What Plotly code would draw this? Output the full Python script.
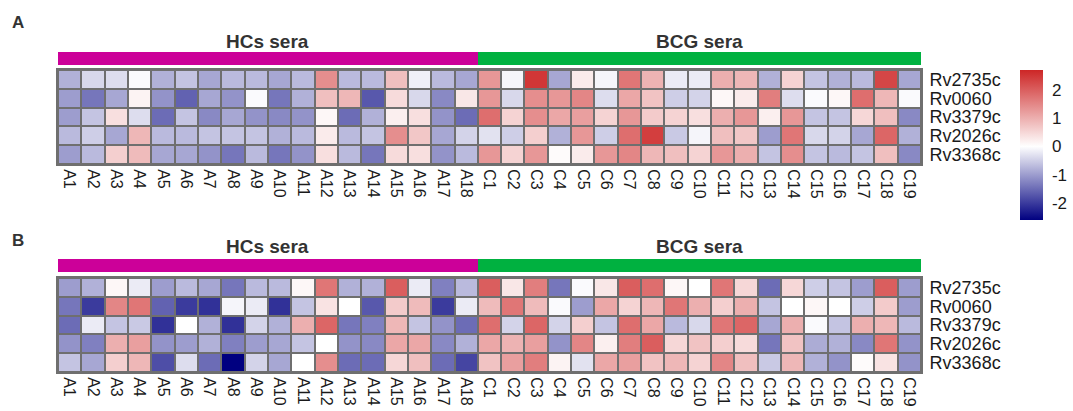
import plotly.graph_objects as go

# Sample labels
hc_samples = [f"A{i}" for i in range(1, 19)]
bcg_samples = [f"C{i}" for i in range(1, 20)]
samples = hc_samples + bcg_samples
genes = ["Rv2735c", "Rv0060", "Rv3379c", "Rv2026c", "Rv3368c"]
group_names = ["HCs sera", "BCG sera"]

# Panel A: scaled values (HCs then BCG)
a_rv2735c = [-0.8, -0.4, -0.35, -0.05, -0.8, -0.6, -0.9, -0.7, -0.7, -0.9, -0.7, 1.4, -0.7, -0.7, 0.8, -0.15, -0.7, -0.9,
             1.3, -0.1, 2.5, -0.9, 0.25, -0.1, 1.7, 0.95, -0.2, -0.2, 1.0, 0.9, -0.8, 0.55, -0.6, -0.8, -0.7, 2.3, -0.9]
a_rv0060 = [-1.0, -1.4, -0.9, 0.15, -1.1, -1.6, -0.9, -1.1, -0.05, -1.4, -0.8, 0.8, 0.9, -1.7, 0.45, -0.4, -1.2, 0.3,
            1.3, -0.4, 1.4, 1.3, 1.5, -0.35, 1.1, 0.75, -0.5, -0.45, 0.1, 0.25, 1.6, -0.35, -0.05, 0.1, 1.8, 0.9, -0.05]
a_rv3379c = [-1.0, -0.6, 0.4, -0.35, -1.5, -0.6, -1.2, -0.9, -1.1, -1.2, -1.1, 0.1, -1.5, -0.8, 0.2, 0.4, -1.1, -1.5,
             1.8, 0.55, 1.4, 1.1, 1.2, 0.55, 1.3, 0.65, 0.55, 0.4, 1.0, 1.3, 0.2, 1.3, -0.6, -0.6, 0.5, 0.8, -1.2]
a_rv2026c = [-0.7, -0.5, -0.9, 0.9, -0.7, -0.7, -0.6, -0.6, -0.6, -0.8, -0.7, 0.25, -0.7, -0.6, 1.4, 0.7, -0.9, -0.45,
             -0.3, -0.5, 0.6, -0.8, 1.3, -0.5, 1.8, 2.4, -0.55, -0.1, 0.8, 0.7, -1.0, 1.7, -0.4, -0.45, -0.9, 1.9, -0.8]
a_rv3368c = [-1.0, -0.7, 0.6, 0.85, -0.9, -0.9, -1.1, -1.4, -0.7, -1.4, -1.1, 0.4, -0.7, -1.4, 0.45, 0.4, -1.1, -0.7,
             1.3, 0.55, 1.3, 0.05, 0.25, 1.3, 1.5, 0.9, 0.8, 0.55, 1.3, 1.0, -0.6, 1.4, -0.6, -0.7, -0.6, 0.8, -1.2]

# Panel B: scaled values (HCs then BCG)
b_rv2735c = [-1.0, -0.8, 0.1, -0.2, -1.0, -0.7, -0.9, -1.4, -0.7, -0.7, 0.1, 1.7, -0.8, -0.8, 2.0, -0.2, -1.3, -0.7,
             2.0, 0.3, 1.6, -1.4, -0.05, 0.3, 2.0, 1.8, 0.1, 0.0, 1.7, 0.5, -1.5, 0.5, -0.5, -0.6, -1.0, 2.0, -1.0]
b_rv0060 = [-1.4, -2.0, 1.5, 1.7, -1.6, -2.0, -2.1, -0.1, -0.2, -2.1, -0.6, 0.35, 0.0, -1.7, 0.65, 0.85, -2.0, -0.2,
            0.85, 1.7, 0.85, -0.05, -1.0, 1.1, 0.55, 0.9, 1.7, 1.0, 0.6, 1.0, -0.6, 0.0, 0.1, 0.0, -0.5, 0.65, -1.0]
b_rv3379c = [-1.5, -0.2, -0.6, -0.55, -2.1, 0.0, -0.8, -2.1, -0.45, -0.8, 1.0, 1.9, -1.4, -1.3, 0.9, -0.6, -1.1, -1.5,
             1.8, -0.45, 1.9, -0.45, 0.6, -0.6, 1.8, 1.1, -0.7, -0.4, 1.7, 1.9, -0.9, 1.0, -0.05, -0.6, 1.0, 0.9, -0.7]
b_rv2026c = [-1.1, -1.3, 1.0, 1.2, -1.1, -1.0, -0.8, -1.3, -1.0, -0.9, -0.6, 0.0, -1.1, -1.2, 1.1, 1.1, -1.2, -0.8,
             1.1, 0.95, 1.2, -1.1, 1.5, 0.2, 1.6, 2.0, 0.5, 0.75, 0.6, 0.45, -1.4, 0.75, -0.85, -0.8, -1.2, 1.7, -1.1]
b_rv3368c = [-0.6, -0.9, 0.6, 0.9, -1.8, -0.35, -1.5, -2.6, -0.45, -0.9, 0.0, 1.4, -1.5, -1.5, 0.5, 0.8, -1.5, -1.9,
             0.75, 1.2, 1.6, 0.15, -0.3, 1.1, 1.2, 0.75, 0.9, 0.55, 1.5, 0.8, -0.55, 0.9, -0.8, -1.1, 0.05, 0.35, -1.1]

colorbar_ticks = [-2, -1, 0, 1, 2]
zmin, zmax = -2.6, 2.7

W, H = 1073, 411
FONT = "Arial, Liberation Sans, sans-serif"
GRID = "#6f6f6f"
TEXT = "#1a1a1a"
HC_COLOR = "#cc0099"
BCG_COLOR = "#00b140"

def px_x(p):
    return p / W

def px_y(p):
    return 1 - p / H

x_dom = [px_x(58), px_x(921)]
mid = -zmin / (zmax - zmin)
scale = [[0, "#000080"], [mid, "#ffffff"], [1, "#cd2626"]]

groups = [0] * len(hc_samples) + [1] * len(bcg_samples)
group_scale = [[0, HC_COLOR], [0.5, HC_COLOR], [0.5, BCG_COLOR], [1, BCG_COLOR]]

panels = [
    ("A", [a_rv2735c, a_rv0060, a_rv3379c, a_rv2026c, a_rv3368c], (70, 164), (52, 65), 42, 22),
    ("B", [b_rv2735c, b_rv0060, b_rv3379c, b_rv2026c, b_rv3368c], (278, 372), (259, 272), 246, 241),
]

fig = go.Figure()
layout = dict(
    width=W, height=H, margin=dict(l=0, r=0, t=0, b=0, autoexpand=False),
    paper_bgcolor="white", plot_bgcolor=GRID, showlegend=False,
    font=dict(family=FONT, color=TEXT),
    coloraxis=dict(
        colorscale=scale, cmin=zmin, cmax=zmax,
        colorbar=dict(
            thicknessmode="pixels", thickness=23, lenmode="pixels", len=150,
            xpad=0, ypad=0,
            x=px_x(1020), xanchor="left", y=px_y(70), yanchor="top",
            tickmode="array", tickvals=colorbar_ticks,
            ticktext=[str(t) for t in colorbar_ticks],
            ticks="outside", ticklen=6, tickcolor="rgba(0,0,0,0)", outlinewidth=0,
            tickfont=dict(size=17, family=FONT, color=TEXT),
        ),
    ),
)
annotations = []

for i, (letter, rows, hm_y, bar_y, title_y, letter_y) in enumerate(panels):
    hx = 2 * i + 1
    bx = 2 * i + 2
    hs = "" if hx == 1 else str(hx)
    bs = str(bx)
    fig.add_trace(go.Heatmap(
        z=rows, x=samples, y=genes, coloraxis="coloraxis", xgap=2, ygap=2,
        xaxis=f"x{hs}", yaxis=f"y{hs}",
    ))
    fig.add_trace(go.Heatmap(
        z=[groups], x=samples, y=["group"], colorscale=group_scale, zmin=0, zmax=1,
        showscale=False, xaxis=f"x{bs}", yaxis=f"y{bs}",
    ))
    layout[f"xaxis{hs}"] = dict(
        domain=x_dom, anchor=f"y{hs}", type="category", tickangle=90,
        tickmode="array", tickvals=samples, ticktext=samples, automargin=False,
        tickfont=dict(size=16, family=FONT, color=TEXT), ticks="",
        showgrid=False, zeroline=False, showline=True, linecolor=GRID,
        linewidth=2, mirror=True,
    )
    layout[f"yaxis{hs}"] = dict(
        domain=[px_y(hm_y[1]), px_y(hm_y[0])], anchor=f"x{hs}", side="right",
        autorange="reversed", type="category", ticks="",
        tickmode="array", tickvals=genes, ticktext=genes, automargin=False,
        ticklabelstandoff=3,
        tickfont=dict(size=18, family=FONT, color=TEXT),
        showgrid=False, zeroline=False, showline=True, linecolor=GRID,
        linewidth=2, mirror=True,
    )
    layout[f"xaxis{bs}"] = dict(
        domain=x_dom, anchor=f"y{bs}", type="category", showticklabels=False,
        showgrid=False, zeroline=False, ticks="", automargin=False,
    )
    layout[f"yaxis{bs}"] = dict(
        domain=[px_y(bar_y[1]), px_y(bar_y[0])], anchor=f"x{bs}", automargin=False,
        showticklabels=False, showgrid=False, zeroline=False, ticks="",
    )
    # group titles centred over each group's span
    starts = [0, len(hc_samples)]
    ends = [len(hc_samples) - 1, len(samples) - 1]
    for name, s, e in zip(group_names, starts, ends):
        annotations.append(dict(
            x=(s + e) / 2, xref=f"x{bs}", y=px_y(title_y), yref="paper",
            text=f"<b>{name}</b>", showarrow=False,
            font=dict(size=19, family=FONT, color="#333333"),
            xanchor="center", yanchor="middle",
        ))
    annotations.append(dict(
        x=px_x(10), xref="paper", y=px_y(letter_y), yref="paper",
        text=f"<b>{letter}</b>", showarrow=False,
        font=dict(size=17, family=FONT, color="#333333"),
        xanchor="left", yanchor="middle",
    ))

layout["annotations"] = annotations
fig.update_layout(**layout)
fig.write_html("out.html")
